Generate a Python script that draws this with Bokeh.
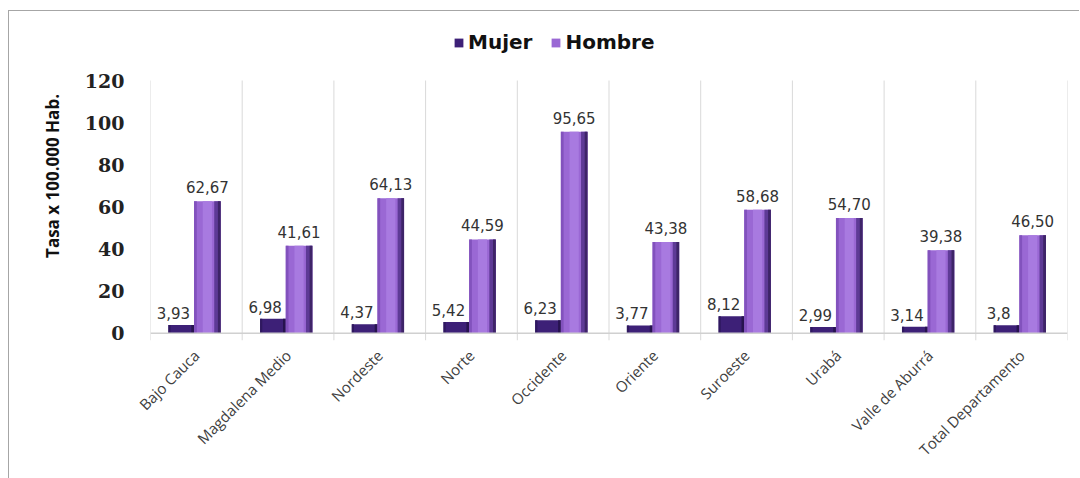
from bokeh.plotting import figure
from bokeh.models import ColumnDataSource, Range1d, FixedTicker, LabelSet, Legend, LegendItem, Span
from bokeh.transform import dodge
from bokeh.embed import file_html
from bokeh.resources import INLINE
from bokeh.core.properties import value

categories = ["Bajo Cauca", "Magdalena Medio", "Nordeste", "Norte", "Occidente",
              "Oriente", "Suroeste", "Urabá", "Valle de Aburrá", "Total Departamento"]
mujer = [3.93, 6.98, 4.37, 5.42, 6.23, 3.77, 8.12, 2.99, 3.14, 3.8]
hombre = [62.67, 41.61, 64.13, 44.59, 95.65, 43.38, 58.68, 54.70, 39.38, 46.50]
y_ticks = [0, 20, 40, 60, 80, 100, 120]

mujer_lbl = [("%g" % v).replace(".", ",") for v in mujer]
hombre_lbl = [("%.2f" % v).replace(".", ",") for v in hombre]

src = ColumnDataSource(dict(cat=categories, mujer=mujer, hombre=hombre,
                            ml=mujer_lbl, hl=hombre_lbl))

Y0, YMAX, YTOP = -3.4, 120, 152.75
p = figure(x_range=categories, y_range=Range1d(Y0, YTOP), width=1071, height=468,
           output_backend="svg", toolbar_location=None,
           min_border_left=141, min_border_right=13, min_border_top=0, min_border_bottom=139)
p.styles = {"margin-left": "8px", "margin-top": "10px",
            "border-left": "1px solid #a6a6a6", "border-top": "1px solid #a6a6a6"}
p.outline_line_color = None
p.background_fill_color = "white"
p.xgrid.grid_line_color = None
p.ygrid.grid_line_color = None

# category separators
sep_x = [(c, -0.5) for c in categories] + [(categories[-1], 0.5)]
p.segment(x0=sep_x, y0=[Y0] * len(sep_x), x1=sep_x, y1=[YMAX] * len(sep_x),
          line_color="#d9d9d9", line_width=1)
p.add_layout(Span(location=0, dimension="width", line_color="#d0d0d0", line_width=1.5))

W = 0.29
OM, OH = -0.16, 0.12
rm = p.vbar(x=dodge("cat", OM, range=p.x_range), top="mujer", width=W, source=src,
            fill_color="#3d2077", line_color=None)
p.vbar(x=dodge("cat", OM + W / 2 - 0.02, range=p.x_range), top="mujer", width=0.04, source=src,
       fill_color="#27134f", line_color=None)
p.vbar(x=dodge("cat", OM - W / 2 + 0.012, range=p.x_range), top="mujer", width=0.024, source=src,
       fill_color="#2f185f", line_color=None)

rh = p.vbar(x=dodge("cat", OH, range=p.x_range), top="hombre", width=W, source=src,
            fill_color="#9a68d4", line_color=None)
p.vbar(x=dodge("cat", OH - W / 2 + 0.015, range=p.x_range), top="hombre", width=0.03, source=src,
       fill_color="#8252bd", line_color=None)
p.vbar(x=dodge("cat", OH + 0.0, range=p.x_range), top="hombre", width=0.1, source=src,
       fill_color="#a87ae0", line_color=None)
p.vbar(x=dodge("cat", OH + W / 2 - 0.035, range=p.x_range), top="hombre", width=0.07, source=src,
       fill_color="#5e3a96", line_color=None)
p.vbar(x=dodge("cat", OH + W / 2 - 0.015, range=p.x_range), top="hombre", width=0.03, source=src,
       fill_color="#3e2468", line_color=None)

p.add_layout(LabelSet(x=dodge("cat", OM - 0.09, range=p.x_range), y="mujer", text="ml", source=src,
                      text_align="center", text_baseline="bottom", y_offset=6,
                      text_font=value("DejaVu Sans"), text_font_size="15px", text_color="#333333"))
p.add_layout(LabelSet(x=dodge("cat", OH, range=p.x_range), y="hombre", text="hl", source=src,
                      text_align="center", text_baseline="bottom", y_offset=8,
                      text_font=value("DejaVu Sans"), text_font_size="15px", text_color="#333333"))

# axes
p.yaxis.ticker = FixedTicker(ticks=y_ticks)
p.yaxis.axis_line_color = None
p.yaxis.major_tick_line_color = None
p.yaxis.minor_tick_line_color = None
p.yaxis.major_label_standoff = 20
p.yaxis.major_label_text_font = "DejaVu Serif"
p.yaxis.major_label_text_font_style = "bold"
p.yaxis.major_label_text_font_size = "19px"
p.yaxis.major_label_text_color = "#222222"
p.yaxis.axis_label = "Tasa x 100.000 Hab."
p.yaxis.axis_label_text_font = "Open Sans"
p.yaxis.axis_label_text_font_style = "bold"
p.yaxis.axis_label_text_font_size = "17px"
p.yaxis.axis_label_text_color = "#111111"
p.yaxis.axis_label_standoff = 18

p.xaxis.axis_line_color = None
p.xaxis.major_tick_line_color = None
p.xaxis.minor_tick_line_color = None
p.xaxis.major_label_orientation = 0.785398
p.xaxis.major_label_standoff = 6
p.xaxis.major_label_text_font = "Open Sans"
p.xaxis.major_label_text_font_size = "15px"
p.xaxis.major_label_text_color = "#404040"

legend = Legend(items=[LegendItem(label="Mujer", renderers=[rm]),
                       LegendItem(label="Hombre", renderers=[rh])],
                orientation="horizontal", location=(303, 286))
legend.border_line_color = None
legend.background_fill_alpha = 0
legend.label_text_font = "DejaVu Sans"
legend.label_text_font_style = "bold"
legend.label_text_font_size = "20px"
legend.label_text_color = "#111111"
legend.glyph_width = 11
legend.glyph_height = 11
legend.label_standoff = 4
legend.spacing = 18
legend.margin = 0
legend.padding = 4
p.add_layout(legend, "center")

open("out.html", "w").write(file_html(p, INLINE))
